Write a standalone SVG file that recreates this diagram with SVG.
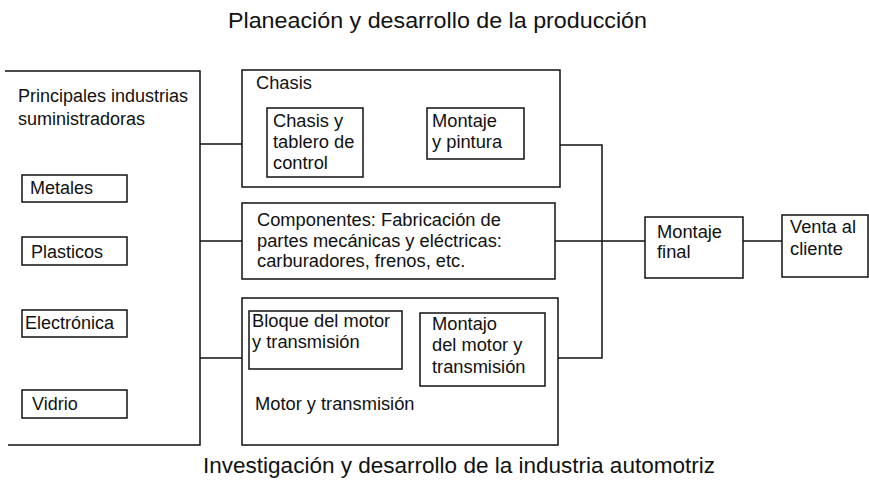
<svg xmlns="http://www.w3.org/2000/svg" width="869" height="483" viewBox="0 0 869 483">
<style>
.b{fill:#fff;stroke:#111;stroke-width:1.5}
.l{fill:none;stroke:#111;stroke-width:1.5}
text{font-family:"Liberation Sans",Arial,sans-serif;fill:#111;font-size:18.3px}
.t{font-size:22.5px}
.s{font-size:18px}
</style>
<rect width="869" height="483" fill="#fff"/>
<text class="t" x="228" y="28" textLength="419" lengthAdjust="spacingAndGlyphs">Planeación y desarrollo de la producción</text>
<text class="t" x="203" y="473" textLength="512" lengthAdjust="spacingAndGlyphs">Investigación y desarrollo de la industria automotriz</text>
<g id="connectors">
<path class="l" d="M200 144H242M200 241H242M200 358H242"/>
<path class="l" d="M560 145H602V358H558M555 241H645M743 241H782"/>
</g>
<g id="proveedores">
<path class="l" d="M5 71H200V445H8"/>
<text class="s" x="18" y="102">Principales industrias</text>
<text class="s" x="18" y="125">suministradoras</text>
</g>
<g id="metales"><rect class="b" x="22" y="175" width="105" height="27"/><text class="s" x="30" y="194">Metales</text></g>
<g id="plasticos"><rect class="b" x="22" y="237" width="105" height="28"/><text class="s" x="31" y="258">Plasticos</text></g>
<g id="electronica"><rect class="b" x="22" y="310" width="105" height="27"/><text class="s" x="25" y="329">Electrónica</text></g>
<g id="vidrio"><rect class="b" x="22" y="390" width="105" height="28"/><text class="s" x="32" y="410">Vidrio</text></g>
<g id="chasis">
<rect class="b" x="242" y="70" width="318" height="117"/>
<text x="256" y="89">Chasis</text>
</g>
<g id="chasis-tablero">
<rect class="b" x="267" y="108" width="96" height="69"/>
<text x="273" y="127">Chasis y</text>
<text x="273" y="148">tablero de</text>
<text x="273" y="169">control</text>
</g>
<g id="montaje-pintura">
<rect class="b" x="427" y="108" width="97" height="51"/>
<text x="432" y="127">Montaje</text>
<text x="432" y="148">y pintura</text>
</g>
<g id="componentes">
<rect class="b" x="242" y="203" width="313" height="76"/>
<text x="257" y="226">Componentes: Fabricación de</text>
<text x="257" y="247">partes mecánicas y eléctricas:</text>
<text x="257" y="267">carburadores, frenos, etc.</text>
</g>
<g id="motor">
<rect class="b" x="242" y="298" width="316" height="147"/>
<text x="255" y="410">Motor y transmisión</text>
</g>
<g id="bloque">
<rect class="b" x="249" y="311" width="153" height="58"/>
<text x="252" y="327">Bloque del motor</text>
<text x="252" y="348">y transmisión</text>
</g>
<g id="montajo">
<rect class="b" x="420" y="313" width="125" height="73"/>
<text x="432" y="330">Montajo</text>
<text x="432" y="351">del motor y</text>
<text x="432" y="373">transmisión</text>
</g>
<g id="montaje-final">
<rect class="b" x="645" y="217" width="98" height="61"/>
<text x="657" y="238">Montaje</text>
<text x="657" y="258">final</text>
</g>
<g id="venta">
<rect class="b" x="782" y="215" width="86" height="62"/>
<text x="790" y="233">Venta al</text>
<text x="790" y="255">cliente</text>
</g>
</svg>
